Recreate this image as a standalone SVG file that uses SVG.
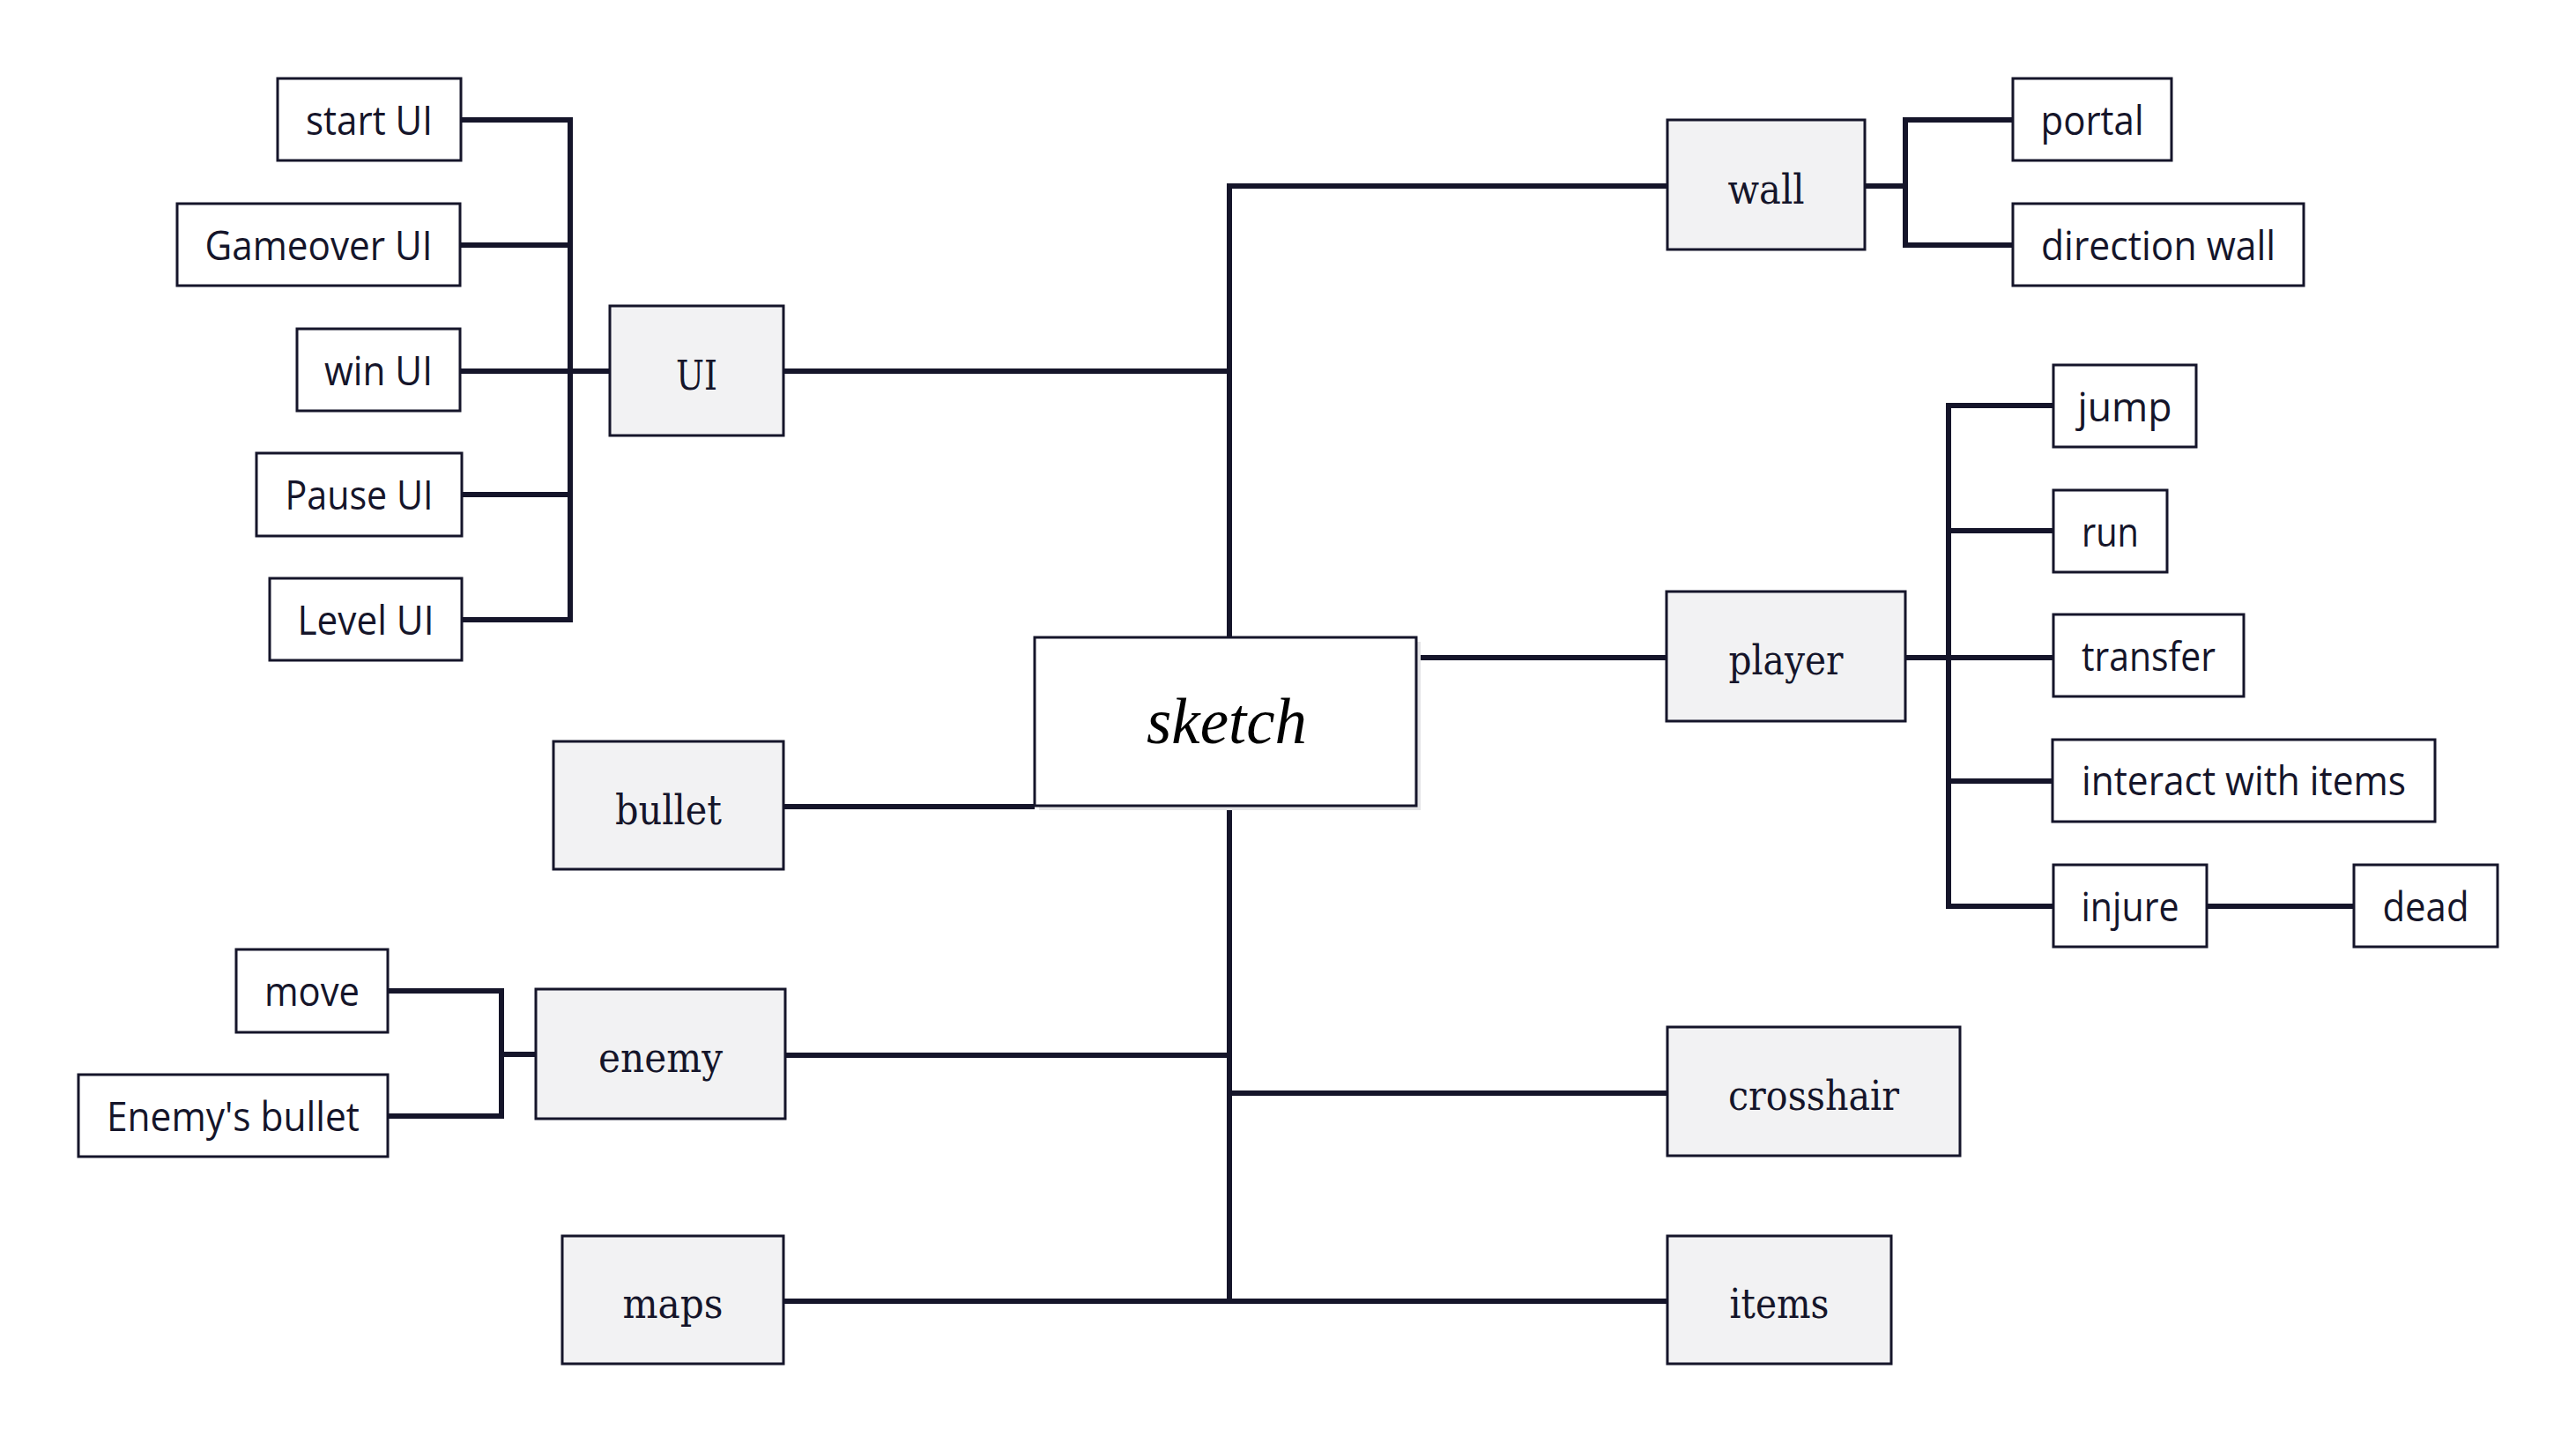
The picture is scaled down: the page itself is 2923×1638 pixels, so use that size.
<svg xmlns="http://www.w3.org/2000/svg" width="2923" height="1638" viewBox="0 0 2923 1638">
<style>
.bg{fill:#ffffff}
.c{fill:none;stroke:#15152a;stroke-width:6;stroke-linejoin:miter;stroke-linecap:butt}
.main rect{fill:#f2f2f3;stroke:#15152a;stroke-width:3}
.leaf rect{fill:#ffffff;stroke:#15152a;stroke-width:3}
.main text{font-family:"DejaVu Serif","Liberation Serif",serif;font-size:46px;fill:#15152a;text-anchor:middle}
.leaf text{font-family:"Open Sans","Noto Sans","Liberation Sans",sans-serif;font-size:46px;fill:#15152a;text-anchor:middle}
.root rect.box{fill:#ffffff;stroke:#15152a;stroke-width:3}
.root rect.sh{fill:#e4e4e6;stroke:none}
.root text{font-family:"Liberation Serif","DejaVu Serif",serif;font-style:italic;font-size:74px;fill:#000000;text-anchor:middle}
</style>
<rect class="bg" x="0" y="0" width="2923" height="1638"/>

<g id="connectors">
  <path class="c" d="M523,136 H647 V703 H524"/>
  <path class="c" d="M522,278 H647"/>
  <path class="c" d="M522,421 H692"/>
  <path class="c" d="M524,561 H647"/>
  <path class="c" d="M889,421 H1395"/>
  <path class="c" d="M1892,211 H1395 V723"/>
  <path class="c" d="M1395,914 V1476"/>
  <path class="c" d="M889,1476 H1892"/>
  <path class="c" d="M891,1197 H1395"/>
  <path class="c" d="M1395,1240 H1892"/>
  <path class="c" d="M889,915 H1174"/>
  <path class="c" d="M1607,746 H1891"/>
  <path class="c" d="M2162,746 H2330"/>
  <path class="c" d="M2330,460 H2211 V1028 H2330"/>
  <path class="c" d="M2211,602 H2330"/>
  <path class="c" d="M2211,886 H2329"/>
  <path class="c" d="M2504,1028 H2671"/>
  <path class="c" d="M2116,211 H2162"/>
  <path class="c" d="M2284,136 H2162 V278 H2284"/>
  <path class="c" d="M440,1124 H569 V1266 H440"/>
  <path class="c" d="M569,1196 H608"/>
</g>

<g id="sketch" class="root">
  <rect class="sh" x="1179" y="728" width="433" height="191"/>
  <rect class="box" x="1174" y="723" width="433" height="191"/>
  <text x="1392" y="843" textLength="182" lengthAdjust="spacingAndGlyphs">sketch</text>
</g>

<g id="ui" class="main"><rect x="692" y="347" width="197" height="147"/><text x="790.5" y="442" textLength="47" lengthAdjust="spacingAndGlyphs">UI</text></g>
<g id="wall" class="main"><rect x="1892" y="136" width="224" height="147"/><text x="2004" y="231" textLength="87" lengthAdjust="spacingAndGlyphs">wall</text></g>
<g id="player" class="main"><rect x="1891" y="671" width="271" height="147"/><text x="2026.5" y="765" textLength="130" lengthAdjust="spacingAndGlyphs">player</text></g>
<g id="bullet" class="main"><rect x="628" y="841" width="261" height="145"/><text x="758.5" y="935" textLength="121" lengthAdjust="spacingAndGlyphs">bullet</text></g>
<g id="enemy" class="main"><rect x="608" y="1122" width="283" height="147"/><text x="749.5" y="1216" textLength="141" lengthAdjust="spacingAndGlyphs">enemy</text></g>
<g id="crosshair" class="main"><rect x="1892" y="1165" width="332" height="146"/><text x="2058" y="1259" textLength="194" lengthAdjust="spacingAndGlyphs">crosshair</text></g>
<g id="maps" class="main"><rect x="638" y="1402" width="251" height="145"/><text x="763.5" y="1495" textLength="114" lengthAdjust="spacingAndGlyphs">maps</text></g>
<g id="items" class="main"><rect x="1892" y="1402" width="254" height="145"/><text x="2019" y="1495" textLength="113" lengthAdjust="spacingAndGlyphs">items</text></g>

<g id="start-ui" class="leaf"><rect x="315" y="89" width="208" height="93"/><text x="419" y="153" textLength="144" lengthAdjust="spacingAndGlyphs">start UI</text></g>
<g id="gameover-ui" class="leaf"><rect x="201" y="231" width="321" height="93"/><text x="361.5" y="295" textLength="258" lengthAdjust="spacingAndGlyphs">Gameover UI</text></g>
<g id="win-ui" class="leaf"><rect x="337" y="373" width="185" height="93"/><text x="429.5" y="437" textLength="123" lengthAdjust="spacingAndGlyphs">win UI</text></g>
<g id="pause-ui" class="leaf"><rect x="291" y="514" width="233" height="94"/><text x="407.5" y="578" textLength="168" lengthAdjust="spacingAndGlyphs">Pause UI</text></g>
<g id="level-ui" class="leaf"><rect x="306" y="656" width="218" height="93"/><text x="415" y="720" textLength="155" lengthAdjust="spacingAndGlyphs">Level UI</text></g>

<g id="portal" class="leaf"><rect x="2284" y="89" width="180" height="93"/><text x="2374" y="153" textLength="117" lengthAdjust="spacingAndGlyphs">portal</text></g>
<g id="direction-wall" class="leaf"><rect x="2284" y="231" width="330" height="93"/><text x="2449" y="295" textLength="266" lengthAdjust="spacingAndGlyphs">direction wall</text></g>

<g id="jump" class="leaf"><rect x="2330" y="414" width="162" height="93"/><text x="2411" y="478" textLength="107" lengthAdjust="spacingAndGlyphs">jump</text></g>
<g id="run" class="leaf"><rect x="2330" y="556" width="129" height="93"/><text x="2394.5" y="620" textLength="65" lengthAdjust="spacingAndGlyphs">run</text></g>
<g id="transfer" class="leaf"><rect x="2330" y="697" width="216" height="93"/><text x="2438" y="761" textLength="152" lengthAdjust="spacingAndGlyphs">transfer</text></g>
<g id="interact" class="leaf"><rect x="2329" y="839" width="434" height="93"/><text x="2546" y="902" textLength="368" lengthAdjust="spacingAndGlyphs">interact with items</text></g>
<g id="injure" class="leaf"><rect x="2330" y="981" width="174" height="93"/><text x="2417" y="1045" textLength="111" lengthAdjust="spacingAndGlyphs">injure</text></g>
<g id="dead" class="leaf"><rect x="2671" y="981" width="163" height="93"/><text x="2752.5" y="1045" textLength="98" lengthAdjust="spacingAndGlyphs">dead</text></g>

<g id="move" class="leaf"><rect x="268" y="1077" width="172" height="94"/><text x="354" y="1141" textLength="108" lengthAdjust="spacingAndGlyphs">move</text></g>
<g id="enemys-bullet" class="leaf"><rect x="89" y="1219" width="351" height="93"/><text x="264.5" y="1283" textLength="287" lengthAdjust="spacingAndGlyphs">Enemy's bullet</text></g>
</svg>
